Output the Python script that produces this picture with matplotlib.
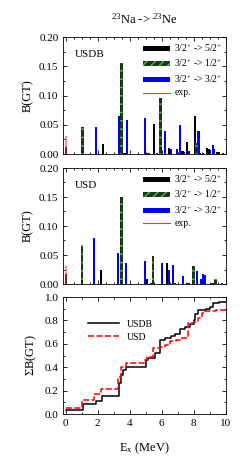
import matplotlib
matplotlib.use("Agg")
import matplotlib.pyplot as plt
from matplotlib.patches import Patch
from matplotlib.lines import Line2D
from matplotlib.ticker import MultipleLocator

plt.rcParams['font.family'] = ['Liberation Serif', 'DejaVu Serif']
plt.rcParams['mathtext.fontset'] = 'custom'
plt.rcParams['mathtext.rm'] = 'Liberation Serif'
plt.rcParams['mathtext.it'] = 'Liberation Serif:italic'
plt.rcParams['hatch.linewidth'] = 1.0

# ---------------- data: USDB ----------------
usdb_52_e = [0.0, 2.33, 3.67, 5.50, 6.48, 7.30, 7.60, 8.10, 8.40, 8.85, 8.95, 9.44, 9.60]
usdb_52_b = [0.012, 0.017, 0.002, 0.051, 0.011, 0.005, 0.021, 0.065, 0.002, 0.011, 0.009, 0.004, 0.003]
usdb_12_e = [1.06, 3.50, 5.90, 8.20]
usdb_12_b = [0.047, 0.155, 0.095, 0.018]
usdb_32_e = [1.875, 3.31, 3.83, 4.96, 5.17, 5.70, 6.19, 6.60, 6.94, 7.15, 7.38, 7.70, 8.30, 8.60, 9.02, 9.19, 9.25, 9.85]
usdb_32_b = [0.047, 0.065, 0.058, 0.062, 0.001, 0.001, 0.039, 0.008, 0.008, 0.049, 0.003, 0.005, 0.040, 0.001, 0.007, 0.015, 0.008, 0.002]

# ---------------- data: USD ----------------
usd_52_e = [0.0, 2.19, 5.10, 6.35]
usd_52_b = [0.018, 0.024, 0.008, 0.036]
usd_12_e = [1.02, 3.50, 5.46, 8.00, 9.375]
usd_12_b = [0.067, 0.150, 0.048, 0.031, 0.008]
usd_32_e = [1.79, 3.25, 3.77, 4.94, 5.35, 6.00, 6.46, 6.73, 6.82, 7.35, 7.67, 8.19, 8.46, 8.56, 8.70, 9.17, 9.75]
usd_32_b = [0.079, 0.054, 0.037, 0.039, 0.002, 0.036, 0.024, 0.033, 0.002, 0.013, 0.002, 0.023, 0.009, 0.018, 0.015, 0.002, 0.002]

exp_e = [0.0]
exp_b = [0.031]

# ---------------- data: cumulative ----------------
cum_usdb_e = [0.0, 1.08, 1.875, 2.30, 3.35, 3.46, 3.60, 3.80, 5.00, 5.16, 5.58, 5.90, 6.20, 6.60, 6.83, 7.14, 7.45, 7.75, 8.00, 8.08, 8.30, 8.80, 9.00, 9.20, 9.60, 10.0]
cum_usdb_v = [0.034, 0.083, 0.115, 0.157, 0.265, 0.330, 0.375, 0.405, 0.460, 0.480, 0.525, 0.630, 0.650, 0.665, 0.680, 0.725, 0.745, 0.770, 0.800, 0.855, 0.890, 0.900, 0.915, 0.945, 0.955, 0.955]
cum_usd_e = [0.0, 1.04, 1.80, 2.20, 3.30, 3.45, 3.80, 4.95, 5.10, 5.48, 5.90, 6.20, 6.50, 6.90, 7.25, 7.55, 7.65, 8.00, 8.30, 8.50, 8.70, 9.40, 10.0]
cum_usd_v = [0.048, 0.120, 0.170, 0.210, 0.320, 0.405, 0.440, 0.460, 0.490, 0.565, 0.570, 0.590, 0.620, 0.630, 0.650, 0.655, 0.775, 0.790, 0.820, 0.860, 0.880, 0.886, 0.886]

GREEN = '#33cc33'
BLUE = '#0000ff'
RED = '#ff3333'

W, H = 251, 461
fig = plt.figure(figsize=(W / 100, H / 100), dpi=100)

def ax_rect(top_px, bot_px):
    left, right = 63.3, 225.7
    return [left / W, 1 - bot_px / H, (right - left) / W, (bot_px - top_px) / H]

ax1 = fig.add_axes(ax_rect(37, 154))
ax2 = fig.add_axes(ax_rect(168, 284))
ax3 = fig.add_axes(ax_rect(297, 414))

def style(ax):
    ax.tick_params(which='both', direction='in', top=True, right=True, labelsize=8, width=0.6)
    ax.tick_params(which='major', length=3)
    ax.tick_params(which='minor', length=1.5)
    for s in ax.spines.values():
        s.set_linewidth(0.6)

def bars(ax, e52, b52, e12, b12, e32, b32, label):
    ax.bar(e32, b32, width=0.14, color=BLUE, linewidth=0, zorder=2)
    ax.bar(e52, b52, width=0.14, color='black', linewidth=0, zorder=3)
    ax.bar(e12, b12, width=0.18, color='#203020', zorder=4, linewidth=0)
    ax.bar(e12, b12, width=0.18, facecolor='none', hatch='--', edgecolor=GREEN, linewidth=0, zorder=5)
    ax.bar(exp_e, exp_b, width=0.14, color=RED, alpha=0.55, linewidth=0, zorder=6)
    ax.set_xlim(-0.15, 10)
    ax.set_ylim(0, 0.20)
    ax.set_yticks([0.0, 0.05, 0.10, 0.15, 0.20])
    ax.set_yticklabels(['0.00', '0.05', '0.10', '0.15', '0.20'])
    ax.yaxis.set_minor_locator(MultipleLocator(0.025))
    ax.set_xticks([0, 2, 4, 6, 8, 10])
    ax.xaxis.set_minor_locator(MultipleLocator(0.5))
    ax.set_xticklabels([])
    ax.set_ylabel('B(GT)', fontsize=9, labelpad=4)
    ax.text(0.07, 0.83, label, transform=ax.transAxes, fontsize=8)
    style(ax)
    handles = [
        Patch(facecolor='black', edgecolor='black', linewidth=0),
        Patch(facecolor='#203020', edgecolor=GREEN, hatch='////', linewidth=0),
        Patch(facecolor=BLUE, edgecolor=BLUE, linewidth=0),
        Line2D([0], [0], color=RED, lw=0.8),
    ]
    labels = ['3/2$^{+}$ -> 5/2$^{+}$', '3/2$^{+}$ -> 1/2$^{+}$', '3/2$^{+}$ -> 3/2$^{+}$', 'exp.']
    ax.legend(handles, labels, loc='upper right', frameon=False, fontsize=7,
              handlelength=2.8, handleheight=0.38, labelspacing=0.38,
              borderaxespad=0.0, borderpad=0.3, handletextpad=0.45,
              bbox_to_anchor=(1.0, 0.98))

bars(ax1, usdb_52_e, usdb_52_b, usdb_12_e, usdb_12_b, usdb_32_e, usdb_32_b, 'USDB')
bars(ax2, usd_52_e, usd_52_b, usd_12_e, usd_12_b, usd_32_e, usd_32_b, 'USD')

ax1.set_title('$^{23}$Na -> $^{23}$Ne', fontsize=9, pad=10)

ax3.step(cum_usdb_e, cum_usdb_v, where='post', color='black', lw=1.1, label='USDB')
ax3.step(cum_usd_e, cum_usd_v, where='post', color='red', lw=1.1, ls=(0, (4, 1.5)), label='USD')
ax3.set_xlim(-0.15, 10)
ax3.set_ylim(0, 1.0)
ax3.set_yticks([0.0, 0.2, 0.4, 0.6, 0.8, 1.0])
ax3.set_yticklabels(['0.0', '0.2', '0.4', '0.6', '0.8', '1.0'])
ax3.yaxis.set_minor_locator(MultipleLocator(0.1))
ax3.set_xticks([0, 2, 4, 6, 8, 10])
ax3.xaxis.set_minor_locator(MultipleLocator(1))
ax3.set_ylabel('$\\Sigma$B(GT)', fontsize=9, labelpad=4)
ax3.set_xlabel('E$_{\\rm x}$ (MeV)', fontsize=9, labelpad=9)
style(ax3)
ax3.legend(loc='upper left', frameon=False, fontsize=7, handlelength=3.2,
           bbox_to_anchor=(0.1, 0.88), labelspacing=0.4)

fig.savefig('out.png', dpi=100)
